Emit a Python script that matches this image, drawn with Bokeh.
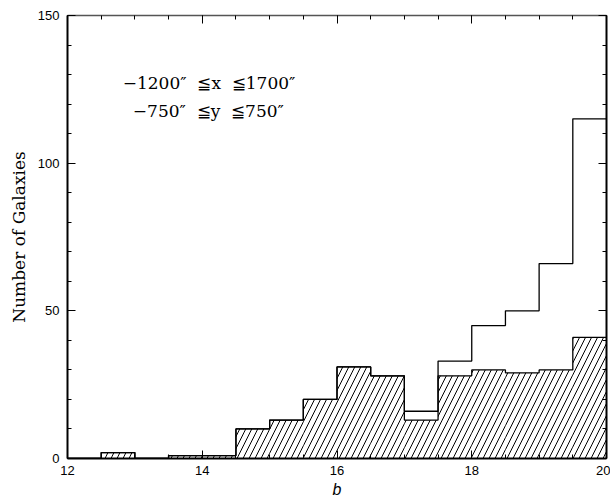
from bokeh.plotting import figure
from bokeh.models import LinearAxis, SingleIntervalTicker, Label, CustomLabelingPolicy
from bokeh.embed import file_html
from bokeh.resources import INLINE

# Data: histogram bins of width 0.5 in b
bin_left = [12.0, 12.5, 13.0, 13.5, 14.0, 14.5, 15.0, 15.5,
            16.0, 16.5, 17.0, 17.5, 18.0, 18.5, 19.0, 19.5]
bin_right = [12.5, 13.0, 13.5, 14.0, 14.5, 15.0, 15.5, 16.0,
             16.5, 17.0, 17.5, 18.0, 18.5, 19.0, 19.5, 20.0]
total_counts = [0, 2, 0, 1, 1, 10, 13, 20, 31, 28, 16, 33, 45, 50, 66, 115]
hatched_counts = [0, 2, 0, 1, 1, 10, 13, 20, 31, 28, 13, 28, 30, 29, 30, 41]
annotation_lines = ["\u22121200\u2033 \u00a0\u2266x \u00a0\u22661700\u2033",
                    "\u2212750\u2033 \u00a0\u2266y \u00a0\u2266750\u2033"]

p = figure(width=610, height=500, x_range=(12, 20), y_range=(0, 150),
           output_backend="svg", toolbar_location=None,
           min_border_left=67, min_border_right=4, min_border_top=15,
           min_border_bottom=38)
p.xgrid.visible = False
p.ygrid.visible = False
p.outline_line_color = None
p.background_fill_color = "white"

# hatched histogram fill
p.quad(left=bin_left, right=bin_right, bottom=0, top=hatched_counts,
       fill_alpha=0, line_alpha=0, hatch_pattern="/", hatch_scale=12,
       hatch_weight=1, hatch_color="black")

# step outlines
step_x = bin_left + [bin_right[-1]]
p.step(x=step_x, y=hatched_counts + [hatched_counts[-1]], mode="after",
       line_color="black", line_width=1.3)
p.step(x=step_x, y=total_counts + [total_counts[-1]], mode="after",
       line_color="black", line_width=1.3)

def style_axis(ax, width=2):
    ax.major_tick_in = 8
    ax.major_tick_out = 0
    ax.minor_tick_in = 4
    ax.minor_tick_out = 0
    ax.axis_line_width = width
    ax.axis_line_color = "black"
    ax.major_tick_line_color = "black"
    ax.minor_tick_line_color = "black"
    ax.major_tick_line_width = 1
    ax.minor_tick_line_width = 1

def hidden_labels():
    return CustomLabelingPolicy(code="""
    const n = indices.size
    for (let i = 0; i < n; i++) { indices.unset(i) }
    return indices
""")

xa = p.xaxis[0]
xa.ticker = SingleIntervalTicker(interval=2, num_minor_ticks=4)
style_axis(xa)
xa.major_label_text_font = "Liberation Sans"
xa.major_label_text_font_size = "13px"
xa.major_label_text_color = "black"
xa.major_label_standoff = 7
xa.axis_label = "b"
xa.axis_label_text_font = "Liberation Sans"
xa.axis_label_text_font_style = "italic"
xa.axis_label_text_font_size = "16px"
xa.axis_label_standoff = 3
xa.axis_label_text_color = "black"

ya = p.yaxis[0]
ya.ticker = SingleIntervalTicker(interval=50, num_minor_ticks=5)
style_axis(ya)
ya.major_label_text_font = "Liberation Sans"
ya.major_label_text_font_size = "13px"
ya.major_label_text_color = "black"
ya.major_label_standoff = 8
ya.axis_label = "Number of Galaxies"
ya.axis_label_text_font = "DejaVu Serif"
ya.axis_label_text_font_style = "normal"
ya.axis_label_text_font_size = "17px"
ya.axis_label_standoff = 6
ya.axis_label_text_color = "black"

top = LinearAxis(ticker=SingleIntervalTicker(interval=2, num_minor_ticks=4))
style_axis(top, width=1.5)
top.axis_line_color = "#555555"
top.major_label_text_font_size = "0px"
top.major_label_standoff = 0
top.major_label_policy = hidden_labels()
p.add_layout(top, "above")

right = LinearAxis(ticker=SingleIntervalTicker(interval=50, num_minor_ticks=5))
style_axis(right)
right.major_label_text_font_size = "0px"
right.major_label_standoff = 0
right.major_label_policy = hidden_labels()
p.add_layout(right, "right")

p.add_layout(Label(x=12.82, y=127, text=annotation_lines[0],
                   text_font="DejaVu Serif", text_font_size="17px",
                   text_baseline="middle", text_color="black"))
p.add_layout(Label(x=12.97, y=117.8, text=annotation_lines[1],
                   text_font="DejaVu Serif", text_font_size="17px",
                   text_baseline="middle", text_color="black"))

open("out.html", "w").write(file_html(p, INLINE))
